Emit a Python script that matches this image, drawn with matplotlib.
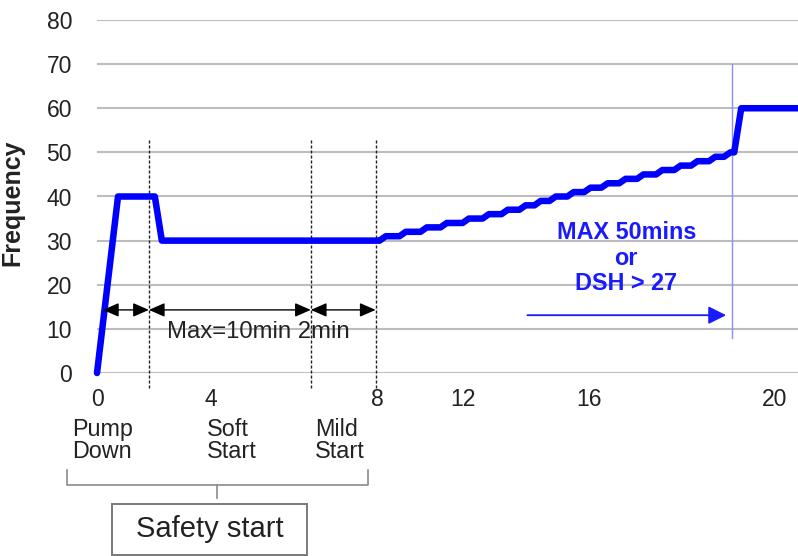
import matplotlib
matplotlib.use('Agg')
import matplotlib.pyplot as plt
from matplotlib.patches import Rectangle

plt.rcParams['font.family'] = ['Liberation Sans', 'DejaVu Sans']

# ---------------- data ----------------
y_ticks = [0, 10, 20, 30, 40, 50, 60, 70, 80]
x_tick_pos = [0.0, 3.25, 8.0, 10.43, 14.05, 19.34]
x_tick_labels = ['0', '4', '8', '12', '16', '20']

# pump down / soft start / mild start profile
start_x = [0.0, 0.60, 1.65, 1.85, 8.0]
start_y = [0, 40, 40, 30, 30]
# staircase ramp: position of each rise and level reached
step_x = [8.06, 8.63, 9.23, 9.80, 10.43, 11.00, 11.54, 12.05, 12.48, 12.91,
          13.42, 13.90, 14.39, 14.90, 15.41, 15.95, 16.47, 16.95, 17.46, 17.89]
step_y = [31, 32, 33, 34, 35, 36, 37, 38, 39, 40,
          41, 42, 43, 44, 45, 46, 47, 48, 49, 50]
RISE = 0.18
# final jump to full speed
final_x = [18.18, 18.38, 20.0]
final_y = [50, 60, 60]

phase_x = [1.48, 6.10, 7.95]          # dashed phase boundaries
arrow_x = [0.17, 1.48, 6.10, 7.95]    # double arrow segments
arrow_y = 14.3
limit_x = 18.12                        # blue limit line
blue_arrow = (12.28, 17.95, 13.1)

phase_names = ['Pump\nDown', 'Soft\nStart', 'Mild\nStart']
phase_label_x = [-0.71, 3.13, 6.21]

# ---------------- build profile ----------------
xs = list(start_x)
ys = list(start_y)
prev = start_y[-1]
for sx, lv in zip(step_x, step_y):
    xs += [sx, sx + RISE]
    ys += [prev, lv]
    prev = lv
xs += final_x
ys += final_y

# ---------------- figure ----------------
fig = plt.figure(figsize=(7.98, 5.56), dpi=100)
ax = fig.add_axes([97 / 798, 183 / 556, 701 / 798, 353 / 556])
ax.set_xlim(0, 20)
ax.set_ylim(0, 80)
for s in ax.spines.values():
    s.set_visible(False)

ax.set_yticks(y_ticks)
ax.set_xticks(x_tick_pos, x_tick_labels)
ax.tick_params(axis='y', length=0, pad=18, labelsize=16.5, labelcolor='#222222')
ax.tick_params(axis='x', length=0, pad=11, labelsize=16.5, labelcolor='#222222')
ax.grid(axis='y', color='#bdbdbd', lw=1.5)
ax.set_axisbelow(True)

ax.set_ylabel('Frequency', fontsize=18, fontweight='bold', color='#222222')
ax.yaxis.set_label_coords(-0.104, 0.482)

# profile line
ax.plot(xs, ys, color='#0000ff', lw=4.7, solid_joinstyle='round',
        solid_capstyle='round', clip_on=False, zorder=5)

# dashed phase boundaries
for px in phase_x:
    ax.plot([px, px], [52.8, -3.5], color='#222222', lw=1.0, ls=(0, (2.2, 1.4)),
            clip_on=False, zorder=4)

# black double arrows
for a, b in zip(arrow_x[:-1], arrow_x[1:]):
    ax.annotate('', xy=(b, arrow_y), xytext=(a, arrow_y),
                arrowprops=dict(arrowstyle='<|-|>,head_length=0.8,head_width=0.35',
                                mutation_scale=12, color='black', lw=1.0,
                                shrinkA=0, shrinkB=0), zorder=6)
ax.text(1.99, 9.3, 'Max=10min 2min', fontsize=17.2, color='#222222',
        ha='left', va='center', zorder=6)

# blue limit line and arrow
ax.plot([limit_x, limit_x], [70, 7.9], color='#8c8cff', lw=1.0, zorder=3)
ax.annotate('', xy=(blue_arrow[1], blue_arrow[2]), xytext=(blue_arrow[0], blue_arrow[2]),
            arrowprops=dict(arrowstyle='-|>,head_length=0.9,head_width=0.45',
                            mutation_scale=12, color='#1a1aff', lw=1.3,
                            shrinkA=0, shrinkB=0))
ax.text(15.1, 26.0, 'MAX 50mins\nor\nDSH > 27', fontsize=16.8, fontweight='bold',
        color='#1a1aff', ha='center', va='center', linespacing=1.13, zorder=6)

# phase names below axis
for name, lx in zip(phase_names, phase_label_x):
    ax.text(lx, -10.1, name, fontsize=16.8, color='#222222', ha='left', va='top',
            linespacing=0.97, clip_on=False)

# brace
bx0, bx1, bxc = -0.85, 7.72, 3.42
ax.plot([bx0, bx0, bx1, bx1], [-22.0, -25.4, -25.4, -22.0], color='#8a8a8a',
        lw=1.2, clip_on=False)
ax.plot([bxc, bxc], [-25.4, -28.3], color='#8a8a8a', lw=1.2, clip_on=False)

# safety start box
ax.add_patch(Rectangle((0.43, -41.2), 5.55, 11.5, facecolor='white',
                       edgecolor='#7a7a7a', lw=1.4, clip_on=False))
ax.text(3.22, -35.3, 'Safety start', fontsize=21, color='#222222',
        ha='center', va='center', clip_on=False)

fig.savefig('out.png', dpi=100)
